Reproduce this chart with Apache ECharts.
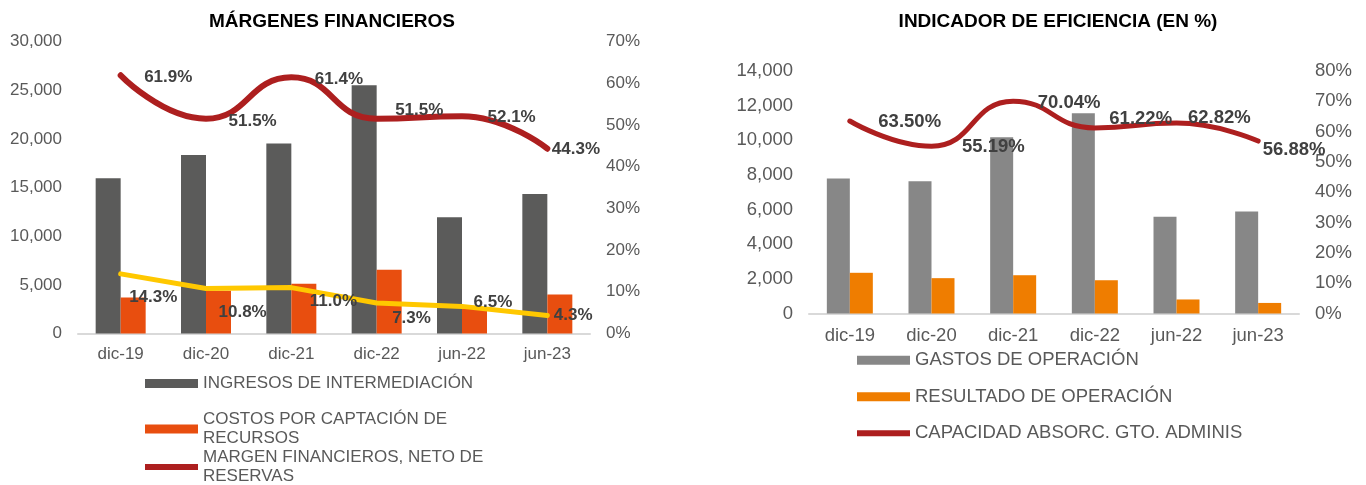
<!DOCTYPE html>
<html>
<head>
<meta charset="utf-8">
<script src="https://cdn.jsdelivr.net/npm/echarts@6/dist/echarts.min.js"></script>
<style>
  html, body { margin: 0; padding: 0; background: #fff; }
  #chart { width: 1366px; height: 485px; }
</style>
</head>
<body>
<div id="chart"></div>
<script>
// categorias compartidas por ambas graficas
const periodos = ['dic-19', 'dic-20', 'dic-21', 'dic-22', 'jun-22', 'jun-23'];

// MÁRGENES FINANCIEROS
const ingresosIntermediacion = [15950, 18330, 19530, 25500, 11950, 14340];
const costosCaptacion = [3700, 4400, 5100, 6550, 2700, 4000];
const margenNetoReservas = [61.9, 51.5, 61.4, 51.5, 52.1, 44.3];
const lineaAmarilla = [14.3, 10.8, 11.0, 7.3, 6.5, 4.3];

// INDICADOR DE EFICIENCIA (EN %)
const gastosOperacion = [7800, 7640, 10170, 11560, 5580, 5890];
const resultadoOperacion = [2350, 2040, 2210, 1920, 810, 610];
const capacidadAbsorcion = [63.50, 55.19, 70.04, 61.22, 62.82, 56.88];

// desplazamiento de cada etiqueta respecto al punto (como quedaron en el original)
const despMargen = [[23, 2], [22, 3], [23, 2], [18, -8], [25, 1], [4, 1]];
const despAmarilla = [[8, 23], [12, 24], [18, 14], [15, 15], [11, -4], [6, 0]];
const despCapacidad = [[28, 1], [30, 1], [24, 2], [14, -9], [11, -5], [4, 9]];

const FONT = '"Liberation Sans", Arial, sans-serif';
const GRIS_TXT = '#595959';
const ROJO = '#AD1F1F';
// icono de linea para la leyenda (banda centrada, los puntos sueltos fijan la caja)
const ICONO_LINEA = 'path://M0,0L0.1,0L0.1,0.1Z M0,1.5L53,1.5L53,7.5L0,7.5Z M0,9L0.1,9L0.1,8.9Z';

const chart = echarts.init(document.getElementById('chart'));

const miles = v => v.toLocaleString('en-US');

function catAxis(grid, size, margin) {
  return {
    type: 'category', gridIndex: grid, data: periodos,
    axisTick: { show: false },
    axisLine: { lineStyle: { color: '#D9D9D9', width: 2 } },
    axisLabel: { color: GRIS_TXT, fontSize: size, margin: margin }
  };
}

function valAxis(grid, max, interval, size, fmt) {
  return {
    type: 'value', gridIndex: grid, min: 0, max: max, interval: interval,
    splitLine: { show: false },
    axisLine: { show: false }, axisTick: { show: false },
    axisLabel: { color: GRIS_TXT, fontSize: size, margin: 16, formatter: fmt }
  };
}

function etiqueta(size, decimales) {
  return {
    show: true, position: 'right', distance: 0,
    color: '#404040', fontWeight: 'bold', fontSize: size,
    formatter: p => p.value.toFixed(decimales) + '%'
  };
}

function leyenda(data, top, size, extra) {
  return Object.assign({
    data: data, orient: 'vertical', left: 145, top: top, padding: 0,
    itemWidth: 53, itemHeight: 9, icon: 'rect',
    textStyle: { color: GRIS_TXT, fontSize: size, lineHeight: size + 2 }
  }, extra || {});
}

function lineaSerie(nombre, data, yIdx, color, ancho, suave, label, desp) {
  return {
    name: nombre, type: 'line', xAxisIndex: yIdx < 2 ? 0 : 1, yAxisIndex: yIdx,
    data: data, smooth: suave, symbol: 'circle', symbolSize: 1, z: 5,
    lineStyle: { color: color, width: ancho, cap: 'round' },
    itemStyle: { color: 'rgba(0,0,0,0)' },
    label: label,
    labelLayout: p => ({ dx: desp[p.dataIndex][0], dy: desp[p.dataIndex][1] })
  };
}

chart.setOption({
  animation: false,
  textStyle: { fontFamily: FONT },
  title: [
    { text: 'MÁRGENES FINANCIEROS', left: 327, top: 7, textAlign: 'center',
      textStyle: { fontSize: 19, fontWeight: 'bold', color: '#000' } },
    { text: 'INDICADOR DE EFICIENCIA (EN %)', left: 1053, top: 7, textAlign: 'center',
      textStyle: { fontSize: 19, fontWeight: 'bold', color: '#000' } }
  ],
  legend: [
    leyenda(['INGRESOS DE INTERMEDIACIÓN'], 374, 17),
    leyenda(['COSTOS POR CAPTACIÓN DE RECURSOS'], 410, 17,
      { formatter: () => 'COSTOS POR CAPTACIÓN DE\nRECURSOS' }),
    leyenda([{ name: 'MARGEN FINANCIEROS, NETO DE RESERVAS', icon: ICONO_LINEA, itemStyle: { color: ROJO } }], 448, 17,
      { formatter: () => 'MARGEN FINANCIEROS, NETO DE\nRESERVAS' }),
    leyenda(['GASTOS DE OPERACIÓN', 'RESULTADO DE OPERACIÓN',
      { name: 'CAPACIDAD ABSORC. GTO. ADMINIS', icon: ICONO_LINEA, itemStyle: { color: ROJO } }],
      350, 18.5, { left: 857, itemGap: 16 })
  ],
  grid: [
    { left: 78, right: 776, top: 41.5, bottom: 151.5 },
    { left: 809, right: 67, top: 71, bottom: 171.5 }
  ],
  xAxis: [catAxis(0, 17, 12), catAxis(1, 18.5, 13)],
  yAxis: [
    valAxis(0, 30000, 5000, 17, miles),
    valAxis(0, 70, 10, 17, '{value}%'),
    valAxis(1, 14000, 2000, 18.5, miles),
    valAxis(1, 80, 10, 18.5, '{value}%')
  ],
  series: [
    { name: 'INGRESOS DE INTERMEDIACIÓN', type: 'bar', xAxisIndex: 0, yAxisIndex: 0,
      data: ingresosIntermediacion, barWidth: 25, barGap: '0%', itemStyle: { color: '#5B5B5A' } },
    { name: 'COSTOS POR CAPTACIÓN DE RECURSOS', type: 'bar', xAxisIndex: 0, yAxisIndex: 0,
      data: costosCaptacion, barWidth: 25, barGap: '0%', itemStyle: { color: '#E84E0F' } },
    lineaSerie('MARGEN FINANCIEROS, NETO DE RESERVAS', margenNetoReservas, 1, ROJO, 6, 0.5,
      etiqueta(17, 1), despMargen),
    lineaSerie('RELACIÓN', lineaAmarilla, 1, '#FFC800', 5, false,
      etiqueta(17, 1), despAmarilla),
    { name: 'GASTOS DE OPERACIÓN', type: 'bar', xAxisIndex: 1, yAxisIndex: 2,
      data: gastosOperacion, barWidth: 23, barGap: '0%', itemStyle: { color: '#878787' } },
    { name: 'RESULTADO DE OPERACIÓN', type: 'bar', xAxisIndex: 1, yAxisIndex: 2,
      data: resultadoOperacion, barWidth: 23, barGap: '0%', itemStyle: { color: '#EF7D00' } },
    lineaSerie('CAPACIDAD ABSORC. GTO. ADMINIS', capacidadAbsorcion, 3, ROJO, 5, 0.5,
      etiqueta(18.5, 2), despCapacidad)
  ]
});
</script>
</body>
</html>
